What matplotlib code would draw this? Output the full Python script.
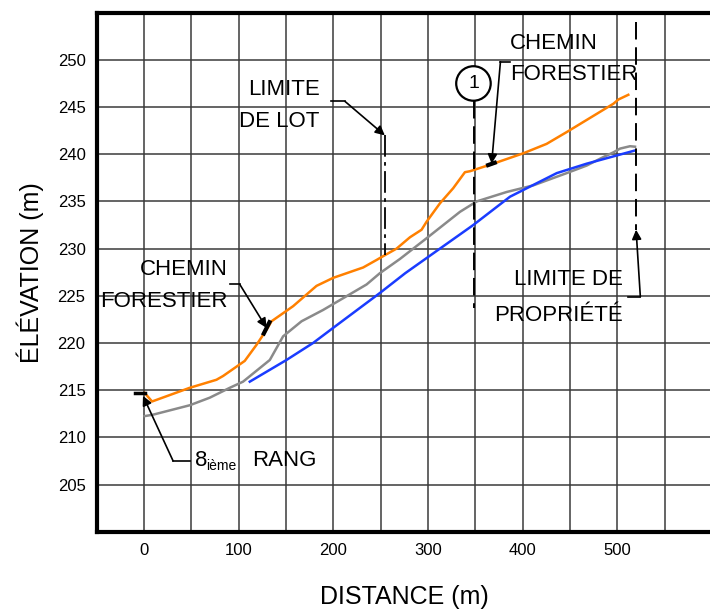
import matplotlib
matplotlib.use("Agg")
import matplotlib.pyplot as plt

# profile lines (distance m, elevation m)
orange_x = [0.7, 8.5, 48.3, 76.5, 83.5, 106.4, 118.8, 129.4, 134.7, 157.5, 182.2, 199.8,
            231.5, 245.7, 252.6, 266.8, 280.9, 293.2, 298.5, 312.6, 326.6, 339.0, 344.3,
            368.9, 400.6, 425.3, 446.5, 495.8, 501.1, 511.6]
orange_y = [214.7, 213.8, 215.25, 216.1, 216.5, 218.1, 219.8, 221.4, 222.3, 223.9, 226.05, 226.9,
            228.0, 228.8, 229.2, 230.0, 231.2, 232.0, 232.85, 234.8, 236.4, 238.1, 238.2,
            239.0, 240.1, 241.1, 242.35, 245.35, 245.8, 246.3]

gray_x = [0.7, 9.5, 48.3, 69.4, 90.6, 104.6, 132.9, 146.9, 166.4, 189.2, 235.1, 249.2, 270.3,
          298.5, 333.8, 351.4, 383.1, 411.2, 446.5, 467.6, 485.2, 495.8, 502.9, 513.4, 518.7]
gray_y = [212.25, 212.4, 213.4, 214.2, 215.25, 215.9, 218.2, 220.7, 222.3, 223.5, 226.2, 227.4, 228.9,
          231.1, 233.9, 235.0, 236.0, 236.7, 238.0, 238.8, 239.7, 240.2, 240.6, 240.85, 240.8]

blue_x = [111.7, 150.5, 178.6, 199.8, 249.2, 276.0, 347.8, 386.6, 436.0, 467.6, 518.7]
blue_y = [215.9, 218.2, 220.0, 221.6, 225.3, 227.4, 232.5, 235.5, 238.0, 239.0, 240.4]

x_ticks = [0, 100, 200, 300, 400, 500]
y_ticks = [205, 210, 215, 220, 225, 230, 235, 240, 245, 250]

plt.rcParams['font.family'] = ['Liberation Sans', 'DejaVu Sans']

fig = plt.figure(figsize=(7.1, 6.14), dpi=100)
ax = fig.add_axes([96.7 / 710, (614 - 531.7) / 614, (712 - 96.7) / 710, (531.7 - 12.7) / 614])

ax.set_xlim(-50, 600)
ax.set_ylim(200, 255)
ax.set_xticks(x_ticks)
ax.set_xticks(range(-50, 601, 50), minor=True)
ax.set_yticks(y_ticks)
ax.set_yticks(range(200, 256, 5), minor=True)
ax.grid(True, which='both', color='#3a3a3a', lw=1.1)
ax.tick_params(which='both', length=0, labelsize=12, pad=8)
for s in ['left', 'bottom', 'top']:
    ax.spines[s].set_linewidth(3)
ax.spines['right'].set_visible(False)
ax.set_axisbelow(True)

ax.plot(gray_x, gray_y, color='#8a8a8a', lw=1.8)
ax.plot(blue_x, blue_y, color='#1a3cff', lw=1.8)
ax.plot(orange_x, orange_y, color='#ff8000', lw=1.8)

ax.set_xlabel('DISTANCE (m)', fontsize=18)
ax.set_ylabel('ÉLÉVATION (m)', fontsize=18)
ax.xaxis.set_label_coords(0.5, (531.7 - 597) / 519)
ax.xaxis.label.set_va('center')
ax.yaxis.set_label_coords((30 - 96.7) / 615.3, 0.5)
ax.yaxis.label.set_va('center')

arrow = dict(arrowstyle='-|>', color='black', lw=1.2, mutation_scale=14, shrinkA=0, shrinkB=0)
tfs = 16

# LIMITE DE LOT
ax.text(185.7, 246.9, 'LIMITE', ha='right', va='center', fontsize=tfs)
ax.text(185.7, 243.5, 'DE LOT', ha='right', va='center', fontsize=tfs)
ax.plot([197.5, 212.3], [245.6, 245.6], color='black', lw=1.2)
ax.annotate('', xy=(254.4, 242.0), xytext=(212.3, 245.6), arrowprops=arrow)
ax.plot([254.4, 254.4], [242.0, 229.3], color='black', lw=1.3, ls=(0, (12, 3, 2, 3)))

# CHEMIN FORESTIER (upper)
ax.text(386.6, 251.75, 'CHEMIN', ha='left', va='center', fontsize=tfs)
ax.text(386.6, 248.45, 'FORESTIER', ha='left', va='center', fontsize=tfs)
ax.plot([376.5, 386.5], [249.8, 249.8], color='black', lw=1.2)
ax.annotate('', xy=(367.2, 239.0), xytext=(376.5, 249.8), arrowprops=arrow)
ax.plot([363.5, 370.5], [238.85, 239.1], color='black', lw=3)

# section 1
ax.text(348.0, 247.5, '1', ha='center', va='center', fontsize=14,
        bbox=dict(boxstyle='circle,pad=0.45', fc='white', ec='black', lw=1.6))
ax.plot([348.5, 348.5], [245.6, 223.7], color='black', lw=1.4, ls=(0, (9, 4)))

# LIMITE DE PROPRIETE
ax.plot([519.8, 519.8], [254.0, 232.0], color='black', lw=1.4, ls=(0, (9, 4)))
ax.plot([511.6, 524.3], [224.9, 224.9], color='black', lw=1.2)
ax.annotate('', xy=(519.8, 232.0), xytext=(524.3, 224.9), arrowprops=arrow)
ax.text(506.0, 226.7, 'LIMITE DE', ha='right', va='center', fontsize=tfs)
ax.text(506.0, 222.9, 'PROPRIÉTÉ', ha='right', va='center', fontsize=tfs)

# CHEMIN FORESTIER (lower)
ax.text(88.5, 227.75, 'CHEMIN', ha='right', va='center', fontsize=tfs)
ax.text(88.5, 224.4, 'FORESTIER', ha='right', va='center', fontsize=tfs)
ax.plot([90.6, 101.2], [226.2, 226.2], color='black', lw=1.2)
ax.annotate('', xy=(129.4, 221.6), xytext=(101.2, 226.2), arrowprops=arrow)
ax.plot([126.5, 132.5], [221.0, 222.2], color='black', lw=3)

# 8ieme RANG
ax.plot([-9.8, 0.7], [214.65, 214.65], color='black', lw=2.5)
ax.plot([48.4, 30.7], [207.5, 207.5], color='black', lw=1.2)
ax.annotate('', xy=(-1.1, 214.4), xytext=(30.7, 207.5), arrowprops=arrow)
ax.text(53.6, 207.5, '8', ha='left', va='center', fontsize=tfs)
ax.text(66.0, 207.0, 'ième', ha='left', va='center', fontsize=10)
ax.text(114.0, 207.5, 'RANG', ha='left', va='center', fontsize=tfs)

fig.savefig('out.png', dpi=100)
